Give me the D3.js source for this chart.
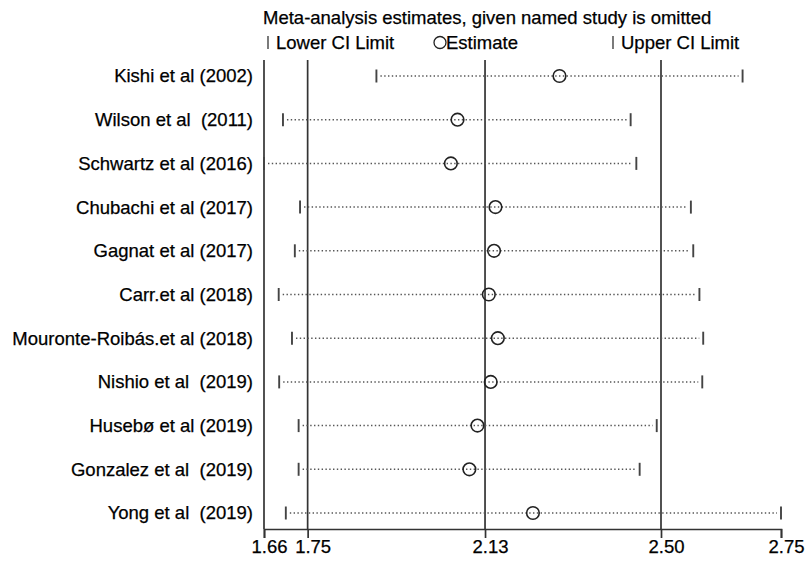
<!DOCTYPE html>
<html><head><meta charset="utf-8">
<script src="https://cdn.jsdelivr.net/npm/d3@7"></script>
<style>body{margin:0;background:#fff}svg{display:block}text{font-family:"Liberation Sans",Arial,sans-serif;fill:#000;white-space:pre;stroke:#000;stroke-width:0.25px}</style>
</head><body>
<svg id="c" width="807" height="563"></svg>
<script>
const studies = ["Kishi et al (2002)","Wilson et al  (2011)","Schwartz et al (2016)","Chubachi et al (2017)","Gagnat et al (2017)","Carr.et al (2018)","Mouronte-Roibás.et al (2018)","Nishio et al  (2019)","Husebø et al (2019)","Gonzalez et al  (2019)","Yong et al  (2019)"];
const lower    = [1.897,1.700,1.660,1.736,1.725,1.691,1.719,1.692,1.733,1.733,1.706];
const estimate = [2.283,2.068,2.054,2.148,2.145,2.134,2.153,2.138,2.110,2.093,2.227];
const upper    = [2.669,2.433,2.445,2.560,2.565,2.578,2.586,2.584,2.488,2.452,2.750];
const tickValues = [1.66,1.752,2.126,2.497,2.75];
const refLines = [1.752,2.126,2.497];
const titleText = "Meta-analysis estimates, given named study is omitted";

const FS = 18.5;
const svg = d3.select("#c");
const x = d3.scaleLinear().domain([1.66,2.75]).range([264,781]);
const y = d3.scalePoint().domain(studies).range([76,513]);
const plotTop = 60, plotBase = 529;

// title & legend
svg.append("text").attr("x",263).attr("y",24).attr("font-size",FS).text(titleText);
const leg = svg.append("g");
leg.append("line").attr("x1",268).attr("x2",268).attr("y1",36).attr("y2",49).attr("stroke","#333").attr("stroke-width",1.3);
leg.append("text").attr("x",276).attr("y",49).attr("font-size",FS).text("Lower CI Limit");
leg.append("circle").attr("cx",440).attr("cy",42.5).attr("r",6).attr("fill","none").attr("stroke","#222").attr("stroke-width",1.3);
leg.append("text").attr("x",446).attr("y",49).attr("font-size",FS).text("Estimate");
leg.append("line").attr("x1",613).attr("x2",613).attr("y1",36).attr("y2",49).attr("stroke","#333").attr("stroke-width",1.3);
leg.append("text").attr("x",621).attr("y",49).attr("font-size",FS).text("Upper CI Limit");

// reference lines
svg.selectAll(".ref").data(refLines).join("line")
  .attr("x1",d=>x(d)).attr("x2",d=>x(d)).attr("y1",plotTop).attr("y2",plotBase)
  .attr("stroke","#333").attr("stroke-width",1.7);

// axis
const ax = svg.append("g").attr("transform",`translate(0,${plotBase})`)
  .call(d3.axisBottom(x).tickValues(tickValues).tickFormat(d3.format(".2f")).tickSize(9).tickSizeOuter(9).tickPadding(2));
ax.select(".domain").attr("stroke","#333").attr("stroke-width",1.7);
ax.selectAll(".tick line").attr("stroke","#333").attr("stroke-width",1.7);
ax.selectAll(".tick text").attr("font-size",FS).attr("fill","#000").attr("dx",5).attr("dy","0.72em")
  .style("font-family","Liberation Sans, Arial, sans-serif");
// left frame line
svg.append("line").attr("x1",x(1.66)).attr("x2",x(1.66)).attr("y1",plotTop).attr("y2",plotBase).attr("stroke","#333").attr("stroke-width",1.7);

// study labels
svg.selectAll(".lab").data(studies).join("text")
  .attr("x",253).attr("y",d=>y(d)).attr("dy","0.35em").attr("text-anchor","end").attr("font-size",FS).text(d=>d);

// rows
const rows = svg.selectAll(".row").data(studies.map((s,i)=>({s,l:lower[i],e:estimate[i],u:upper[i]}))).join("g");
rows.append("line").attr("x1",d=>x(d.l)+4).attr("x2",d=>x(d.u)-4).attr("y1",d=>y(d.s)).attr("y2",d=>y(d.s))
  .attr("stroke","#555").attr("stroke-width",1.5).attr("stroke-dasharray","1.4,2.4");
rows.append("line").attr("x1",d=>x(d.l)).attr("x2",d=>x(d.l)).attr("y1",d=>y(d.s)-6.5).attr("y2",d=>y(d.s)+6.5)
  .attr("stroke","#444").attr("stroke-width",1.9);
rows.append("line").attr("x1",d=>x(d.u)).attr("x2",d=>x(d.u)).attr("y1",d=>y(d.s)-6.5).attr("y2",d=>y(d.s)+6.5)
  .attr("stroke","#444").attr("stroke-width",1.9);
rows.append("circle").attr("cx",d=>x(d.e)).attr("cy",d=>y(d.s)).attr("r",6.3)
  .attr("fill","none").attr("stroke","#222").attr("stroke-width",1.6);
</script>
</body></html>
